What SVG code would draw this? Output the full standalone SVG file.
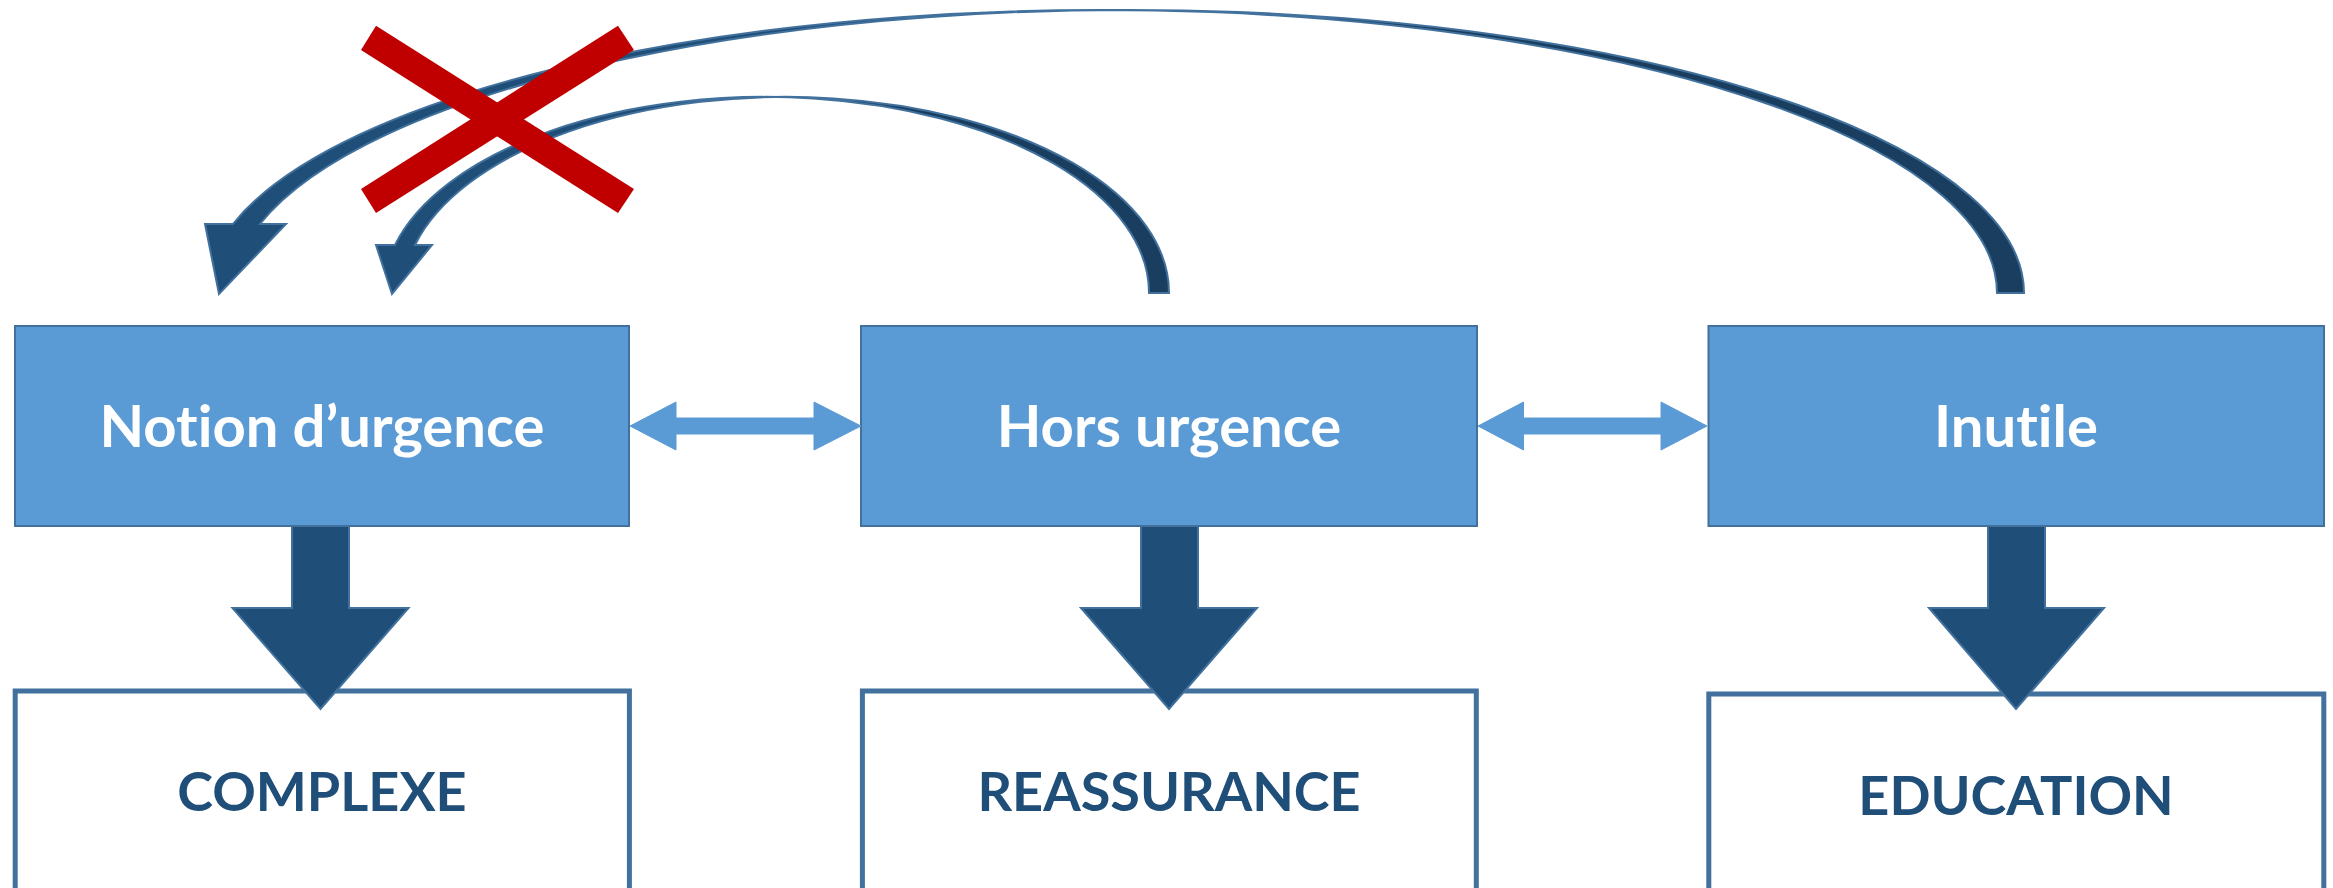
<svg xmlns="http://www.w3.org/2000/svg" xmlns:xlink="http://www.w3.org/1999/xlink" width="2333" height="888" viewBox="0 0 2333 888">
<style>
.top{fill:#5B9BD5;stroke:#41719C;stroke-width:2}
.bot{fill:#FFFFFF;stroke:#41719C;stroke-width:5}
.tl{font-family:Lato,"Open Sans",sans-serif;font-weight:bold;font-size:58px;fill:#FFFFFF;text-anchor:middle;font-variant-ligatures:none;font-feature-settings:"liga" 0}
.bl{font-family:Lato,"Open Sans",sans-serif;font-weight:bold;font-size:54px;fill:#1F4E79;text-anchor:middle;font-variant-ligatures:none}
.down{fill:#1F4E79;stroke:#41719C;stroke-width:2;stroke-linejoin:miter}
.dbl{fill:#5B9BD5;stroke:#5B9BD5;stroke-width:1}
.band{fill:#1F4E79;stroke:none}
.shade{fill:#1A3E60;stroke:none}
.edge{fill:none;stroke:#41719C;stroke-width:2}
.cross{fill:#C00000}
</style>
<defs>
<path id="bigArc" d="M2024,293 A895.5,283 0 0 0 260,224 L286,224 L219,294 L205,224 L233,224 A895.5,283 0 0 1 1997,293 Z"/>
<path id="bigShade" d="M2024,293 A895.5,283 0 0 0 1128.5,10 L1101.5,10 A895.5,283 0 0 1 1997,293 Z"/>
<path id="smallArc" d="M1169,293 A382.8,196 0 0 0 415,245 L432,245 L392,294 L376,245 L395,245 A382.8,196 0 0 1 1149,293 Z"/>
<path id="smallShade" d="M1169,293 A382.8,196 0 0 0 786,97 L766,97 A382.8,196 0 0 1 1149,293 Z"/>
</defs>
<rect x="0" y="0" width="2333" height="888" fill="#FFFFFF"/>

<g id="node-notion">
<rect class="top" x="15" y="326" width="614" height="200"/>
<text class="tl" x="322" y="447">Notion d’urgence</text>
</g>
<g id="node-hors">
<rect class="top" x="861" y="326" width="616" height="200"/>
<text class="tl" x="1169" y="447">Hors urgence</text>
</g>
<g id="node-inutile">
<rect class="top" x="1708.5" y="326" width="615.5" height="200"/>
<text class="tl" x="2016" y="447">Inutile</text>
</g>
<g id="node-complexe">
<rect class="bot" x="15.2" y="691" width="614.2" height="220"/>
<text class="bl" x="322" y="811">COMPLEXE</text>
</g>
<g id="node-reassurance">
<rect class="bot" x="862.4" y="691" width="613.9" height="220"/>
<text class="bl" x="1169" y="811">REASSURANCE</text>
</g>
<g id="node-education">
<rect class="bot" x="1708.8" y="694" width="615" height="220"/>
<text class="bl" x="2016" y="815">EDUCATION</text>
</g>

<g id="connectors">
<polygon class="down" points="292,526 349,526 349,608 408.5,608 320.5,709 232.5,608 292,608"/>
<polygon class="down" points="1141,526 1198,526 1198,608 1257,608 1169,709 1081,608 1141,608"/>
<polygon class="down" points="1988,526 2045,526 2045,608 2104,608 2016,709 1929,608 1988,608"/>
<polygon class="dbl" points="630,426 676,402 676,418 814,418 814,402 861,426 814,450 814,434 676,434 676,450"/>
<polygon class="dbl" points="1478,426 1523.5,402 1523.5,418 1661,418 1661,402 1707,426 1661,450 1661,434 1523.5,434 1523.5,450"/>
<use xlink:href="#bigArc" class="band"/>
<use xlink:href="#bigShade" class="shade"/>
<use xlink:href="#bigArc" class="edge"/>
<use xlink:href="#smallArc" class="band"/>
<use xlink:href="#smallShade" class="shade"/>
<use xlink:href="#smallArc" class="edge"/>
</g>

<g id="cross">
<polygon class="cross" points="361,50 376,25.7 634,189 618,213"/>
<polygon class="cross" points="618,25.7 634,50 376,213 361,189"/>
</g>
</svg>
